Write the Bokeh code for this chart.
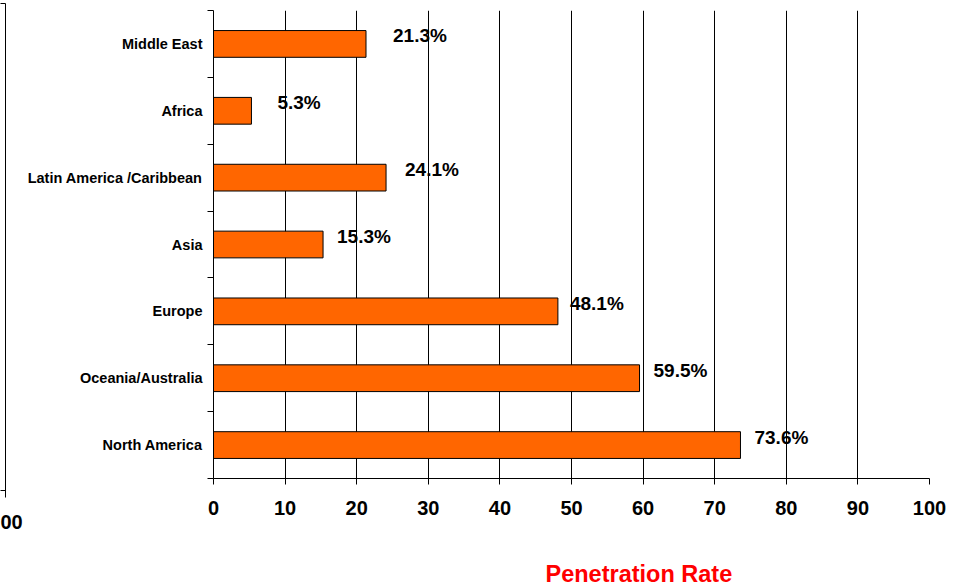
from bokeh.plotting import figure
from bokeh.layouts import row
from bokeh.models import ColumnDataSource, FixedTicker, Title, LinearAxis
from bokeh.embed import file_html
from bokeh.resources import INLINE
from bokeh.core.properties import value

categories = ["Middle East", "Africa", "Latin America /Caribbean", "Asia",
              "Europe", "Oceania/Australia", "North America"]
rates = [21.3, 5.3, 24.1, 15.3, 48.1, 59.5, 73.6]
x_ticks = [0, 10, 20, 30, 40, 50, 60, 70, 80, 90, 100]
label_dx = [27, 26, 19, 14, 12, 14, 14]

n = len(categories)
ypos = [n - 0.5 - i for i in range(n)]
texts = [f"{v:.1f}%" for v in rates]

src = ColumnDataSource(dict(cat=categories, rate=rates, y=ypos, txt=texts, dx=label_dx))

FONT = "Liberation Sans"
W0 = 24

# ---- fragment of a neighbouring chart at the left edge ----
f0 = figure(width=W0, height=587, output_backend="svg", toolbar_location=None,
            x_range=(0, 1), y_range=(0, 1), x_axis_location=None, y_axis_location="right",
            min_border_left=0, min_border_right=W0 - 5, min_border_top=3, min_border_bottom=90)
f0.frame_align = False
f0.outline_line_color = None
f0.grid.grid_line_color = None
frag_ticks = [0.0142, 1]
f0.yaxis.ticker = FixedTicker(ticks=frag_ticks)
f0.yaxis.major_label_overrides = {t: "" for t in frag_ticks}
f0.yaxis.major_label_standoff = 0
f0.yaxis.major_tick_in = 5
f0.yaxis.major_tick_out = 0
f0.yaxis.minor_tick_line_color = None
f0.yaxis.axis_line_color = "black"
f0.yaxis.major_tick_line_color = "black"
f0.add_layout(Title(text="00", align="left", offset=0, standoff=30,
                    text_font=FONT, text_font_style="bold", text_font_size="20px",
                    text_color="black"), "below")

# ---- main chart ----
p = figure(width=961 - W0, height=587, output_backend="svg", toolbar_location=None,
           x_range=(0, 100), y_range=(0, n),
           min_border_left=213 - W0, min_border_right=32, min_border_top=10, min_border_bottom=109)
p.frame_align = False
p.outline_line_color = None

p.hbar(y="y", left=0, right="rate", height=0.4, source=src,
       fill_color="#FF6600", line_color="black", line_width=1)

p.text(x="rate", y="y", text="txt", source=src, x_offset="dx", y_offset=-8,
       text_font=value(FONT), text_font_style="bold", text_font_size="19px",
       text_baseline="middle", text_align="left", text_color="black")

# x axis
p.xaxis.ticker = FixedTicker(ticks=x_ticks)
p.xaxis.major_tick_out = 6
p.xaxis.major_tick_in = 0
p.xaxis.minor_tick_line_color = None
p.xaxis.axis_line_color = "black"
p.xaxis.major_tick_line_color = "black"
p.xaxis.major_label_text_font = FONT
p.xaxis.major_label_text_font_style = "bold"
p.xaxis.major_label_text_font_size = "20px"
p.xaxis.major_label_text_color = "black"
p.xaxis.major_label_standoff = 16
p.xgrid.ticker = FixedTicker(ticks=x_ticks)
p.xgrid.grid_line_color = "black"
p.xgrid.grid_line_width = 1

# invisible spacer axis between the tick labels and the axis title
spacer_ticks = [50]
spacer = LinearAxis(ticker=FixedTicker(ticks=spacer_ticks), major_tick_out=41, major_tick_in=0,
                    major_label_standoff=0, major_label_overrides={t: "" for t in spacer_ticks},
                    axis_line_color=None, major_tick_line_color=None,
                    minor_tick_line_color=None)
p.add_layout(spacer, "below")

p.add_layout(Title(text="Penetration Rate", align="left", offset=332, standoff=0,
                   text_font=FONT, text_font_style="bold", text_font_size="23.5px",
                   text_color="#FF0000"), "below")

# y axis
p.yaxis.ticker = FixedTicker(ticks=ypos, minor_ticks=list(range(n + 1)))
p.yaxis.major_label_overrides = {y: c for y, c in zip(ypos, categories)}
p.yaxis.major_tick_line_alpha = 0
p.yaxis.major_tick_out = 6
p.yaxis.major_tick_in = 0
p.yaxis.minor_tick_out = 6
p.yaxis.minor_tick_in = 0
p.yaxis.minor_tick_line_color = "black"
p.yaxis.axis_line_color = "black"
p.yaxis.major_label_text_font = FONT
p.yaxis.major_label_text_font_style = "bold"
p.yaxis.major_label_text_font_size = "14.5px"
p.yaxis.major_label_text_color = "black"
p.yaxis.major_label_standoff = 5
p.ygrid.grid_line_color = None

layout = row(f0, p, spacing=0)
open("out.html", "w").write(file_html(layout, INLINE))
